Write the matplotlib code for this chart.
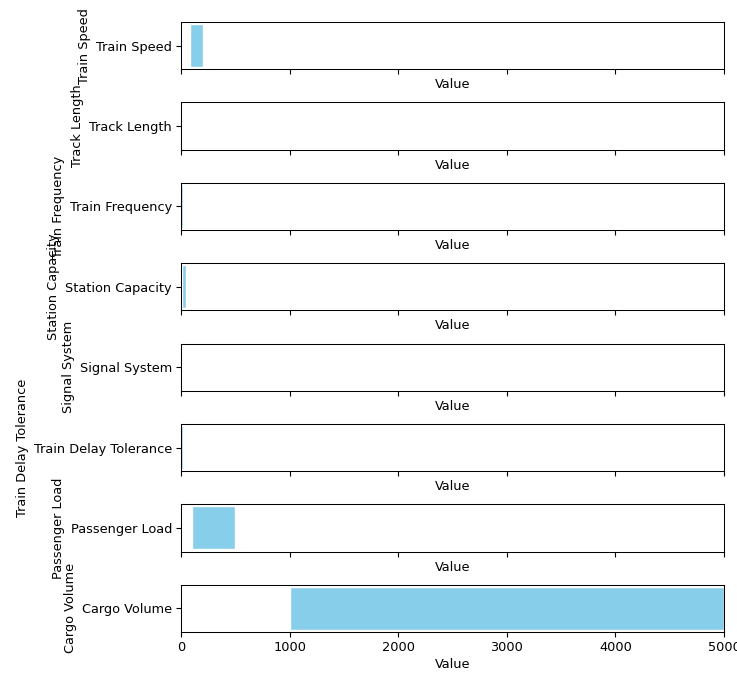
import matplotlib
matplotlib.use("Agg")
import matplotlib.pyplot as plt

plt.rcParams["font.size"] = 9.3
plt.rcParams["xtick.major.size"] = 3.3
plt.rcParams["ytick.major.size"] = 3.3
plt.rcParams["xtick.major.pad"] = 3.2
plt.rcParams["ytick.major.pad"] = 3.2

categories = ["Train Speed", "Track Length", "Train Frequency", "Station Capacity",
              "Signal System", "Train Delay Tolerance", "Passenger Load", "Cargo Volume"]
range_min = [80, 1, 1, 10, 0, 0, 100, 1000]
range_max = [200, 5, 20, 50, 1, 15, 500, 5000]

fig, axes = plt.subplots(len(categories), 1, figsize=(7.37, 6.73), dpi=100, sharex=True)
for ax, cat, lo, hi in zip(axes, categories, range_min, range_max):
    ax.barh([cat], [hi - lo], left=[lo], color="skyblue", edgecolor="white")
    ax.set_ylabel(cat, labelpad=3.7)
    ax.set_xlabel("Value", labelpad=3.2)
    ax.set_xlim(0, 5000)
    for s in ax.spines.values():
        s.set_linewidth(0.75)
fig.subplots_adjust(left=0.2456, right=0.9824, top=0.9673, bottom=0.0609, hspace=0.70)
fig.savefig("out.png", dpi=100)
